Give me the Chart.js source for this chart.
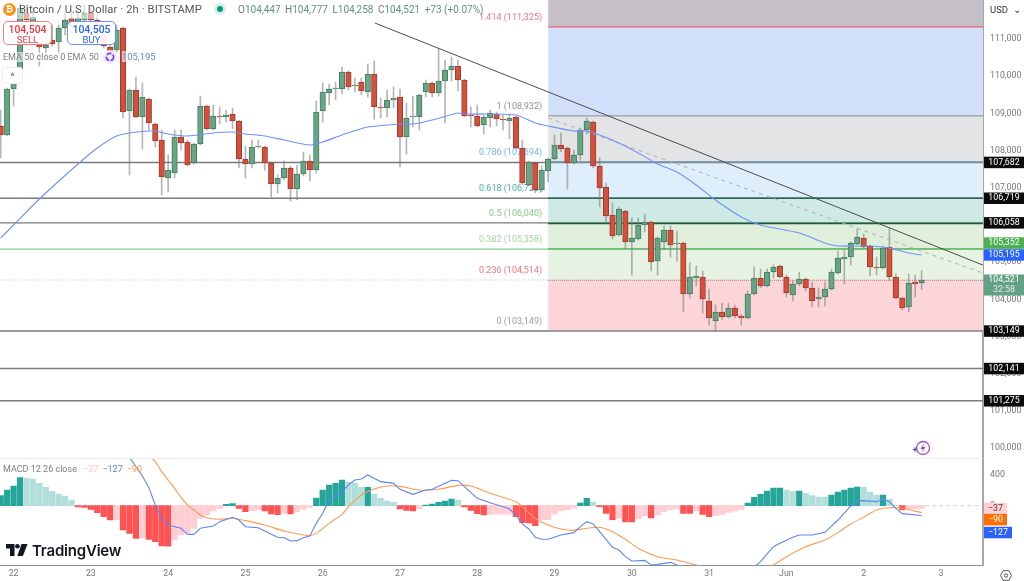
<!DOCTYPE html>
<html>
<head>
<meta charset="utf-8">
<title>BTCUSD 2h</title>
<script src="https://cdn.jsdelivr.net/npm/chart.js@4"></script>
<style>
  html, body { margin: 0; padding: 0; background: #fff; }
  body { width: 1024px; height: 581px; overflow: hidden; position: relative; font-family: Roboto, sans-serif; }
  #chart { position: absolute; left: 0; top: 0; }
  .abs { position: absolute; white-space: nowrap; }
  .titleBar { left: 0; top: 0; width: 470px; height: 19px; background: rgba(255,255,255,.55); }
  .title { left: 19px; top: 3px; font-size: 11.2px; color: #55585f; letter-spacing: .1px; }
  .ohlc { left: 238px; top: 4px; font-size: 10px; color: #5d9480; }
  .ohlc i { font-style: normal; color: #6b7a75; }
  .ohlc span { margin-left: 2px; }
  .btcIcon { left: 3px; top: 3px; width: 13px; height: 13px; border-radius: 50%; background: #f7931a; color: #fff; font-size: 9px; line-height: 13px; text-align: center; font-weight: 700; }
  .liveDot { left: 217px; top: 6px; width: 6px; height: 6px; border-radius: 50%; background: #089981; box-shadow: 0 0 0 3px #d6efe9; }
  .trade { top: 21px; width: 49px; height: 24px; border-radius: 5px; background: rgba(255,255,255,.92); text-align: center; font-size: 9.5px; line-height: 10px; padding-top: 2px; box-sizing: border-box; }
  .trade b { display: block; font-size: 10.5px; font-weight: 500; line-height: 11px; }
  .sell { left: 3px; border: 1px solid #f77c80; color: #f23645; }
  .buy { left: 67px; border: 1px solid #6d8ff5; color: #2962ff; }
  .ema { left: 3px; top: 52px; font-size: 9px; color: #7d7f86; background: rgba(255,255,255,.6); }
  .emaVal { left: 122px; top: 51px; font-size: 9.4px; color: #5f86f0; background: rgba(255,255,255,.6); }
  .collapse { left: 2px; top: 67px; width: 19px; height: 15px; border: 1px solid #eee; border-radius: 3px; background: #fff; color: #444; font-size: 9px; line-height: 16px; text-align: center; }
  .macdTitle { left: 3px; top: 464px; font-size: 9px; color: #7d7f86; }
  .macdTitle span { margin-left: 4px; }
  .usd { left: 990px; top: 4px; font-size: 9.5px; color: #333; }
  .tvText { left: 32px; top: 541px; font-family: Inter, sans-serif; font-size: 15px; font-weight: 600; color: #131722; letter-spacing: -.2px; }
</style>
</head>
<body>
<canvas id="chart" width="1024" height="581"></canvas>

<div class="abs titleBar"></div>
<div class="abs btcIcon">₿</div>
<div class="abs title">Bitcoin / U.S. Dollar · 2h · BITSTAMP</div>
<div class="abs liveDot"></div>
<div class="abs ohlc"><i>O</i>104,447 <span><i>H</i>104,777</span> <span><i>L</i>104,258</span> <span><i>C</i>104,521</span> <span>+73 (+0.07%)</span></div>
<div class="abs trade sell"><b>104,504</b>SELL</div>
<div class="abs trade buy"><b>104,505</b>BUY</div>
<div class="abs ema">EMA 50 close 0 EMA 50</div>
<svg class="abs" style="left:103px;top:50px" width="14" height="14" viewBox="0 0 14 14">
  <circle cx="7" cy="7" r="7" fill="#efe9fb"/>
  <circle cx="7" cy="7" r="3.6" fill="none" stroke="#7a3fe0" stroke-width="1.6" stroke-dasharray="5 1.5"/>
</svg>
<div class="abs emaVal">105,195</div>
<div class="abs collapse">^</div>
<div class="abs macdTitle">MACD 12 26 close <span style="color:#ffc4ca">−37</span><span style="color:#5f86f0">−127</span><span style="color:#ff9a50">−90</span></div>
<div class="abs usd">USD &nbsp;⌄</div>
<svg class="abs" style="left:912px;top:440px" width="20" height="18" viewBox="0 0 20 18">
  <circle cx="11" cy="8" r="6.5" fill="none" stroke="#a94bc9" stroke-width="1.3"/>
  <path d="M12 3.5 8.5 9h2.4L10 12.5 13.5 7h-2.4z" fill="#a94bc9"/>
  <path d="M3 6.5 3.8 8.7 6 9.5 3.8 10.3 3 12.5 2.2 10.3 0 9.5 2.2 8.7z" fill="#5a4fe0"/>
</svg>
<svg class="abs" style="left:1000px;top:570px" width="12" height="11" viewBox="0 0 12 11">
  <path d="M3 .7h6L11.4 5.5 9 10.3H3L.6 5.5z" fill="none" stroke="#555" stroke-width="1"/>
  <circle cx="6" cy="5.5" r="1.7" fill="none" stroke="#555" stroke-width="1"/>
</svg>
<svg class="abs" style="left:6px;top:544px" width="22" height="12" viewBox="0 0 22 12">
  <path d="M0 0h8.5v12H4V4.5H0zM15.5 0h6l-4.6 12h-5.6z" fill="#131722"/>
  <circle cx="11.4" cy="2.3" r="2.3" fill="#131722"/>
</svg>
<div class="abs tvText">TradingView</div>

<script>
// ── Data ──────────────────────────────────────────────────────────────────────
const opens = [
  108661,108420,109656,109951,111698,111242,110892,110758,110973,110919,111295,111564,
  111349,111510,111698,111510,111188,110785,110704,111295,109064,109629,108903,109387,
  108714,108285,107263,107398,108366,108231,107667,108177,109199,108581,108930,108903,
  108984,108795,107774,107640,108097,108097,107667,107102,107263,107532,106968,107371,
  107720,107478,109064,109548,109656,109656,110112,109737,109844,109575,110058,109172,
  109145,109360,109441,108366,108903,108903,109575,109817,109548,109871,110166,110274,
  109898,108957,108930,108688,108876,108984,108849,108795,108903,108070,107076,107667,
  106941,107451,107774,108150,108070,107667,107882,108554,108768,107586,107022,106269,
  105731,106376,105543,105624,106000,106080,105032,105543,105866,105489,105516,104146,
  104576,104602,103957,103419,103662,103527,103769,103554,103500,104146,104576,104361,
  104736,104898,104602,104119,104415,104549,104307,104011,104065,104280,104709,105086,
  105140,105489,105651,105436,104871,104844,105409,104602,104038,103796,104468,104447
];
const highs = [
  109091,109683,110166,111967,111914,111833,111376,111242,111376,111376,111725,111779,
  111833,111914,111914,111645,111295,110839,111376,111320,109656,109978,109817,109414,
  108741,108554,107882,108554,108554,108285,108200,109468,109226,109226,109172,109091,
  109145,108822,108124,108285,108285,108124,107694,107344,107720,107586,107613,107962,
  107882,109333,109817,109790,109844,110247,110139,109951,109951,110327,110408,109414,
  109629,109710,109656,109279,109468,109520,109898,109844,110731,110435,110516,110435,
  109925,109172,109226,108957,109091,109037,108957,108957,108930,108285,107720,107694,
  107586,107801,108420,108473,108097,108016,108607,108876,108795,107801,107129,106591,
  106484,106403,106188,106188,106296,106107,105678,105973,105973,105839,105540,104978,
  104898,104763,104280,103850,103903,103903,103850,103608,104226,104871,104817,104817,
  104925,104925,104656,104495,104736,104576,104468,104307,104468,104817,105301,105328,
  105543,105893,105758,105462,105140,105436,105920,104683,104065,104683,104656,104777
];
const lows = [
  107801,108392,109199,109930,110839,110973,110274,110489,110812,110570,111107,111107,
  111188,111376,111242,111000,110758,110570,110650,108876,107344,108876,108043,108554,
  108097,106807,106887,107263,108016,107586,107640,108150,108554,108554,108714,108768,
  108581,107532,107263,107532,108070,107478,106753,106860,107210,106645,106672,107317,
  107183,107398,108768,109226,109360,109521,109629,109575,109495,109441,108849,108876,
  108903,109145,107559,107908,108634,108554,109441,109441,109468,108741,109871,109602,
  108903,108634,108634,108446,108634,108661,108554,108312,108043,107076,107050,106860,
  106887,107156,107747,107962,106968,107640,107747,108446,107532,106484,106080,105624,
  105704,105355,104656,105597,105812,104763,104656,105328,105140,105032,103662,104038,
  104361,103635,103312,103149,103446,103500,103500,103312,103473,104120,104307,104334,
  104576,104576,104065,103957,104361,104226,103796,103796,103823,104253,104680,104415,
  104925,105462,105382,104629,104656,104817,104522,104010,103715,103662,104065,104258
];
const closes = [
  108420,109656,109844,111833,111510,111590,110785,110839,110865,111295,111510,111349,
  111564,111698,111510,111188,110812,110650,111242,109037,109629,108903,109441,108741,
  108258,107290,107478,108366,108204,107613,108177,109199,108581,108930,108903,108957,
  108795,107774,107640,108097,108124,107667,107102,107263,107532,106968,107371,107720,
  107478,109037,109575,109656,109683,110112,109710,109764,109602,110058,109172,109145,
  109360,109414,108366,108876,108930,109495,109817,109548,109871,110166,110274,109898,
  108930,108930,108661,108903,109010,108849,108822,108876,108070,107129,107694,106941,
  107478,107774,108150,108043,107667,107882,108554,108795,107586,106995,106242,105704,
  106430,105543,105651,106000,106080,105005,105651,105866,105462,105516,104146,104602,
  104629,104011,103500,103662,103527,103769,103554,103500,104146,104576,104361,104736,
  104871,104602,104173,104415,104549,104307,103957,104065,104280,104736,105113,105140,
  105516,105678,105409,104871,104844,105382,104602,104038,103769,104441,104415,104521
];

const emaBars = [0,2,6,12,15,18,20,23,24,26,29,33,36,38,41,44,48,50,53,57,62,64,67,71,72,80,83,85,89,91,93,96,99,102,105,108,111,115,118,124,128,130,135,138,141,143];
const emaVals = [105651,106000,106699,107640,108070,108392,108473,108527,108527,108446,108392,108473,108500,108446,108392,108285,108150,108231,108420,108634,108714,108714,108822,109010,108984,108957,108741,108661,108527,108527,108420,108204,107936,107640,107425,107076,106672,106215,106000,105785,105516,105436,105436,105382,105247,105195];

const macdHist = [
  129,202,254,361,353,344,288,236,185,150,125,73,
  -17,-22,-47,-90,-142,-185,-180,-314,-357,-421,-415,-434,
  -464,-520,-521,-443,-378,-348,-292,-163,-120,-69,-34,17,
  26,-34,-77,-64,-56,-69,-107,-116,-99,-107,-82,-47,
  -21,99,202,267,288,331,301,288,236,236,150,95,
  60,43,-43,-60,-69,-43,9,21,43,60,86,73,
  -17,-60,-103,-120,-112,-111,-110,-108,-142,-219,-224,-258,
  -181,-180,-108,-65,-56,-30,34,95,47,-13,-99,-181,
  -163,-211,-211,-172,-133,-159,-120,-77,-56,-43,-99,-99,
  -69,-112,-142,-129,-112,-86,-69,-47,34,107,146,189,
  228,228,202,181,189,163,129,112,111,138,176,202,
  228,241,236,176,138,138,82,9,-56,-39,-38,-37
];
const macdBars = [18,20,22,23,24,25,26,28,29,30,31,33,34,36,37,38,40,41,43,44,45,46,47,48,49,50,51,53,54,55,56,57,59,61,62,64,66,67,69,70,71,72,74,76,78,79,80,81,82,83,84,85,87,89,90,91,92,93,94,95,96,97,98,100,101,102,104,105,106,110,114,116,117,118,119,120,121,123,124,126,128,130,132,133,134,136,137,138,139,140,143];
const macdVals = [900,623,383,236,9,-163,-249,-292,-370,-370,-292,-262,-206,-150,-185,-271,-284,-327,-408,-413,-456,-451,-413,-391,-228,-99,73,180,267,331,344,396,310,288,211,146,202,211,288,327,322,245,95,39,-13,-43,-120,-236,-301,-408,-434,-434,-378,-348,-271,-206,-236,-335,-434,-537,-572,-658,-714,-705,-765,-757,-731,-765,-880,-1000,-950,-850,-790,-722,-623,-529,-486,-408,-378,-378,-344,-185,-4,60,65,52,82,52,-34,-103,-127];
const signalBars = [20,22,24,25,26,27,28,29,30,31,32,34,36,38,41,44,47,48,49,51,53,54,56,58,60,62,65,68,71,73,76,80,81,83,85,87,89,91,93,95,97,99,102,105,108,112,116,118,120,122,125,128,130,132,134,136,138,140,143];
const signalVals = [900,740,568,439,331,224,107,9,-56,-120,-155,-176,-163,-193,-249,-327,-378,-387,-357,-228,-112,-13,138,215,254,249,202,211,262,254,159,52,-13,-163,-249,-301,-318,-292,-279,-335,-434,-550,-658,-701,-765,-850,-830,-800,-765,-658,-529,-443,-348,-236,-150,-56,-26,-34,-90];

const dayBars = [2,14,26,38,50,62,74,86,98,110,122,134,146];
const dayLabels = ['22','23','24','25','26','27','28','29','30','31','Jun','2','3'];
const priceTicks = [111000,110000,109000,108000,107000,106000,105000,104000,103000,102000,101000,100000];
const macdTicks = [400,0];

// horizontal support / resistance levels
const keyLevels = [107682,106719,106058,103149,102141,101275];
const breakoutLevel = 105352;
const lastPrice = 104521;

// fibonacci retracement
const fibRatios = ['1.414','1','0.786','0.618','0.5','0.382','0.236','0'];
const fibPrices = [111325,108932,107694,106723,106040,105358,104514,103149];
const fibText = ['111,325','108,932','107,694','106,723','106,040','105,358','104,514','103,149'];

// trend lines: bar index and price of both ends
const trendBars = [58.1,152.5];
const trendVals = [111430,104925];
const dashBars = [85,152.5];
const dashVals = [108876,104709];

// ── Config ────────────────────────────────────────────────────────────────────
const C = {
  up: '#6aa386', upEdge: '#3f7f60', down: '#d2503c', downEdge: '#a33a2b', wick: 'rgba(120,120,120,.55)',
  ema: '#6d93f5', macd: '#5d86f5', signal: '#ff9a55',
  histUp: '#26a69a', histUpFade: '#b2dfdb', histDown: '#ff5252', histDownFade: '#ffcdd2',
  level: '#7b7b7b', text: '#76787e'
};
const fibLabelCol = ['#f7727c','#8f9196','#72b7f2','#45b39e','#86c98a','#a3d6a5','#f7727c','#9a9ca1'];
const fibLineCol = ['#f4636f','#9a9da5','#6e93ae','#11614c','#12613a','#57b45f','#d9808a','#a3a3a8'];
const fibBandCol = ['#c5c0c7','#d1dffb','#e3e4e6','#dfeefb','#cfeae4','#dfefdc','#e6f3e3','#fbd5d8'];
const fibDash = [[],[],[],[],[],[],[1,1],[]];

const FIB_START = 85;
const X_MAX = 152.53;
const PRICE_TOP = 112048;
const barsIdx = opens.map((_, i) => i);

const pairs = (xs, ys) => xs.map((x, i) => ({ x, y: ys[i] }));

function hLine(y, from, to, color, width, order, dash) {
  return {
    type: 'line', data: [{ x: from, y }, { x: to, y }], borderColor: color, borderWidth: width,
    borderDash: dash || [], pointRadius: 0, order, yAxisID: 'y'
  };
}

function fibBands() {
  const tops = [PRICE_TOP, ...fibPrices.slice(0, -1)];
  return fibPrices.map((p, i) => ({
    type: 'line', yAxisID: 'y', order: 30, pointRadius: 0, borderWidth: 0,
    data: [{ x: FIB_START, y: tops[i] }, { x: X_MAX, y: tops[i] }],
    fill: { value: p }, backgroundColor: fibBandCol[i]
  }));
}

function histColor(i) {
  const v = macdHist[i], prev = i ? macdHist[i - 1] : 0;
  if (v >= 0) return v >= prev ? C.histUp : C.histUpFade;
  return v <= prev ? C.histDown : C.histDownFade;
}

const isUp = i => closes[i] >= opens[i];

// keeps tick labels from pushing the panes away from the canvas edges
function noMargins(s) {
  s.paddingTop = s.paddingBottom = s.paddingLeft = s.paddingRight = 0;
}

// ── Tags on the price axis ────────────────────────────────────────────────────
const tags = [
  { text: '107,682', v: 107682, bg: '#0b0b0b' },
  { text: '106,719', v: 106719, bg: '#0b0b0b' },
  { text: '106,058', v: 106058, bg: '#0b0b0b' },
  { text: '105,352', v: 105352, bg: '#4caf50', nudge: -6 },
  { text: '105,195', v: 105195, bg: '#2962ff' },
  { text: '104,521', sub: '32:58', v: 104521, bg: '#63a184', nudge: 5 },
  { text: '103,149', v: 103149, bg: '#0b0b0b' },
  { text: '102,141', v: 102141, bg: '#0b0b0b' },
  { text: '101,275', v: 101275, bg: '#0b0b0b' },
  { text: '−37', v: -37, axis: 'macd', bg: '#ffcdd2', fg: '#444', w: 23, nudge: 0 },
  { text: '−90', v: -90, axis: 'macd', bg: '#ff6d00', w: 23, nudge: 7 },
  { text: '−127', v: -127, axis: 'macd', bg: '#2962ff', w: 28, nudge: 17 }
];

const overlay = {
  id: 'overlay',
  beforeDatasetsDraw(chart) {
    const { ctx, scales } = chart;
    ctx.save();
    ctx.font = "9px Roboto, sans-serif";
    ctx.textAlign = 'right';
    ctx.textBaseline = 'middle';
    const xr = scales.x.getPixelForValue(FIB_START) - 6;
    fibPrices.forEach((p, i) => {
      ctx.fillStyle = fibLabelCol[i];
      ctx.fillText(`${fibRatios[i]} (${fibText[i]})`, xr, scales.y.getPixelForValue(p) - 9.5);
    });
    ctx.restore();
  },
  afterDraw(chart) {
    const { ctx, scales, chartArea } = chart;
    ctx.save();
    // pane separator
    ctx.fillStyle = '#ececec';
    ctx.fillRect(0, Math.round(scales.y.bottom), chartArea.right, 1);
    ctx.font = "8.8px Roboto, sans-serif";
    ctx.textAlign = 'center';
    ctx.textBaseline = 'middle';
    tags.forEach(t => {
      const s = scales[t.axis || 'y'];
      const mid = s.getPixelForValue(t.v) + (t.nudge || 0);
      const h = t.sub ? 21 : 11.5;
      const w = t.w || 40;
      const left = chartArea.right + 1;
      ctx.fillStyle = t.bg;
      ctx.fillRect(left, mid - h / 2, w, h);
      ctx.fillStyle = t.fg || '#fff';
      const cx = left + Math.min(w, 40) / 2;
      if (t.sub) {
        ctx.fillText(t.text, cx, mid - 5);
        ctx.fillStyle = 'rgba(255,255,255,.8)';
        ctx.fillText(t.sub, cx, mid + 5);
      } else {
        ctx.fillText(t.text, cx, mid);
      }
    });
    ctx.restore();
  }
};

// ── Chart ─────────────────────────────────────────────────────────────────────
const datasets = [
  ...fibBands(),
  ...keyLevels.map(v => hLine(v, -1, X_MAX, C.level, 1.4, 26)),
  hLine(breakoutLevel, -1, X_MAX, '#86cc8b', 1.2, 25),
  hLine(lastPrice, -1, X_MAX, '#a9c4c4', 1, 25, [1, 2]),
  ...fibPrices.map((p, i) => hLine(p, FIB_START, X_MAX, fibLineCol[i], 1.3, 24, fibDash[i])),
  {
    type: 'bar', label: 'wick', yAxisID: 'y', order: 12, barThickness: 1, grouped: false,
    backgroundColor: C.wick,
    data: barsIdx.map(i => ({ x: i, y: [lows[i], highs[i]] }))
  },
  {
    type: 'bar', label: 'body', yAxisID: 'y', order: 11, barThickness: 5.5, grouped: false,
    borderWidth: 1, borderSkipped: false,
    backgroundColor: barsIdx.map(i => isUp(i) ? C.up : C.down),
    borderColor: barsIdx.map(i => isUp(i) ? C.upEdge : C.downEdge),
    data: barsIdx.map(i => ({ x: i, y: [opens[i], closes[i]] }))
  },
  { type: 'line', label: 'trend', yAxisID: 'y', order: 9, data: pairs(trendBars, trendVals), borderColor: '#4d4d4d', borderWidth: 1, pointRadius: 0 },
  { type: 'line', label: 'trend2', yAxisID: 'y', order: 9, data: pairs(dashBars, dashVals), borderColor: '#b0b0b0', borderWidth: 1, borderDash: [4, 4], pointRadius: 0 },
  { type: 'line', label: 'EMA 50', yAxisID: 'y', order: 8, data: pairs(emaBars, emaVals), borderColor: C.ema, borderWidth: 1.1, pointRadius: 0, tension: 0.25 },
  {
    type: 'line', label: 'zero', yAxisID: 'macd', order: 7, borderColor: '#cfcfcf', borderWidth: 1, borderDash: [4, 3], pointRadius: 0,
    data: [{ x: -1, y: 0 }, { x: X_MAX, y: 0 }]
  },
  {
    type: 'bar', label: 'Histogram', yAxisID: 'macd', order: 6, barThickness: 5.6, grouped: false,
    backgroundColor: barsIdx.map(histColor),
    data: barsIdx.map(i => ({ x: i, y: macdHist[i] }))
  },
  { type: 'line', label: 'Signal', yAxisID: 'macd', order: 5, data: pairs(signalBars, signalVals), borderColor: C.signal, borderWidth: 1.1, pointRadius: 0, tension: 0.25 },
  { type: 'line', label: 'MACD', yAxisID: 'macd', order: 4, data: pairs(macdBars, macdVals), borderColor: C.macd, borderWidth: 1.1, pointRadius: 0 }
];

const axisFont = { family: 'Roboto, sans-serif', size: 8.8 };

new Chart(document.getElementById('chart').getContext('2d'), {
  type: 'bar',
  data: { datasets },
  plugins: [overlay],
  options: {
    responsive: false,
    animation: false,
    events: [],
    layout: { padding: 0 },
    plugins: { legend: { display: false }, tooltip: { enabled: false } },
    scales: {
      x: {
        type: 'linear', min: -0.11, max: X_MAX, offset: false,
        afterBuildTicks(s) { s.ticks = dayBars.map(value => ({ value })); },
        afterFit(s) { s.height = 15.4; noMargins(s); },
        grid: { display: false, drawTicks: false },
        border: { color: '#8f8f8f', width: 1 },
        ticks: {
          autoSkip: false, maxRotation: 0, padding: 3, color: C.text, font: axisFont,
          callback: (v, i) => dayLabels[i]
        }
      },
      y: {
        type: 'linear', position: 'right', stack: 'panes', stackWeight: 458,
        min: 99737, max: PRICE_TOP,
        afterBuildTicks(s) { s.ticks = priceTicks.map(value => ({ value })); },
        afterFit(s) { s.width = 41; noMargins(s); },
        grid: { display: false, drawTicks: false },
        border: { color: '#a6a6a6', width: 2 },
        ticks: { autoSkip: false, padding: 7, color: C.text, font: axisFont, callback: v => v.toLocaleString('en-US') }
      },
      macd: {
        type: 'linear', position: 'right', stack: 'panes', stackWeight: 107.6,
        min: -773, max: 615,
        afterBuildTicks(s) { s.ticks = macdTicks.map(value => ({ value })); },
        afterFit(s) { s.width = 41; noMargins(s); },
        grid: { display: false, drawTicks: false },
        border: { color: '#a6a6a6', width: 2 },
        ticks: { autoSkip: false, padding: 7, color: C.text, font: axisFont, callback: v => v.toLocaleString('en-US') }
      }
    }
  }
});
</script>
</body>
</html>
